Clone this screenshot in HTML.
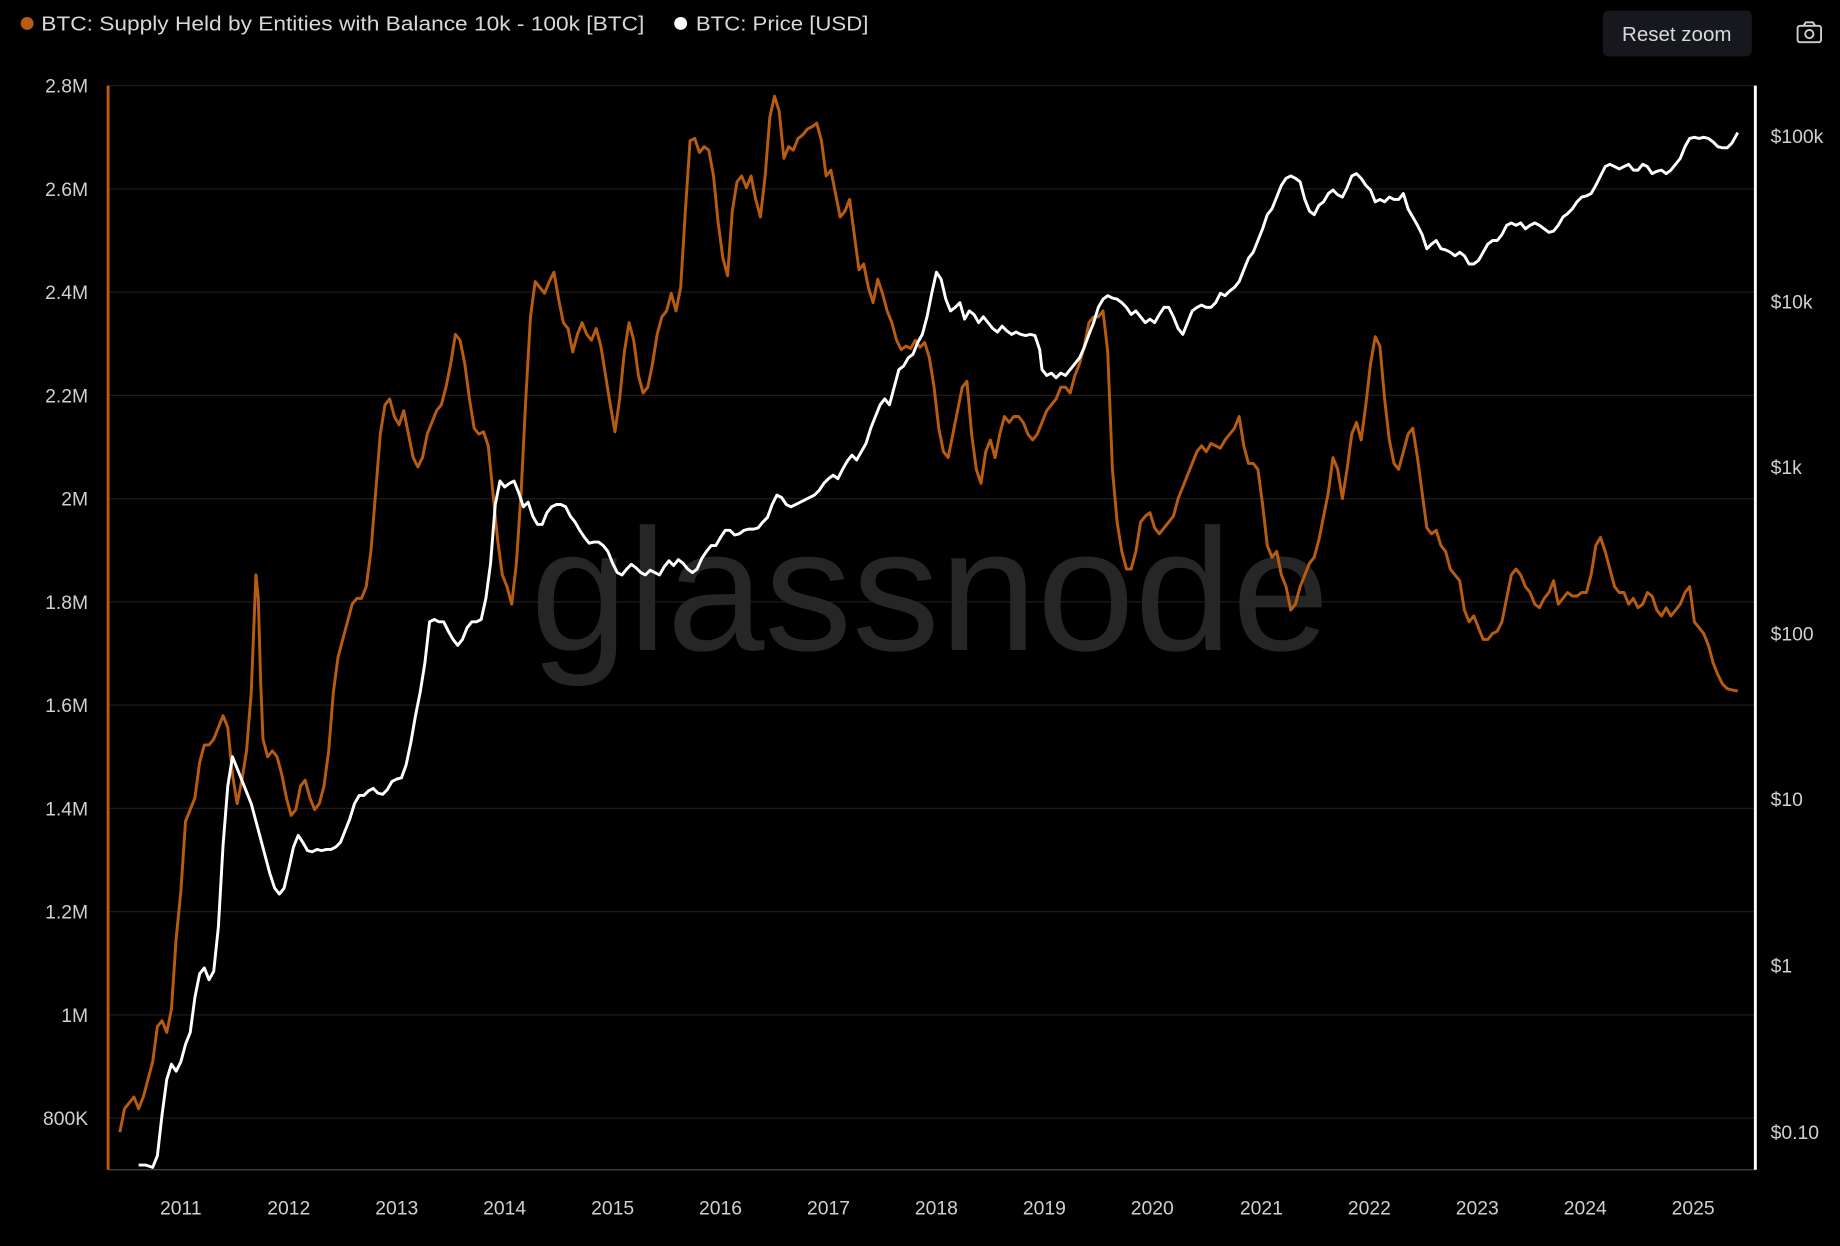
<!DOCTYPE html>
<html><head><meta charset="utf-8"><style>
html,body{margin:0;padding:0;background:#000;}
svg{display:block;}
text{font-family:"Liberation Sans",sans-serif;}
</style></head><body>
<svg width="1840" height="1246" viewBox="0 0 1568 1062" xmlns="http://www.w3.org/2000/svg">
<rect width="1568" height="1062" fill="#000"/>
<g stroke="#1c1c1c" stroke-width="1">
<line x1="92" x2="1496" y1="73" y2="73"/><line x1="92" x2="1496" y1="161" y2="161"/><line x1="92" x2="1496" y1="249" y2="249"/><line x1="92" x2="1496" y1="337" y2="337"/><line x1="92" x2="1496" y1="425" y2="425"/><line x1="92" x2="1496" y1="513" y2="513"/><line x1="92" x2="1496" y1="601" y2="601"/><line x1="92" x2="1496" y1="689" y2="689"/><line x1="92" x2="1496" y1="777" y2="777"/><line x1="92" x2="1496" y1="865" y2="865"/><line x1="92" x2="1496" y1="953" y2="953"/>
</g>
<line x1="92" x2="1496" y1="997" y2="997" stroke="#444" stroke-width="1"/>
<text x="452" y="554" font-size="148" fill="#262626" textLength="681" lengthAdjust="spacingAndGlyphs">glassnode</text>
<line x1="92" x2="92" y1="73" y2="997" stroke="#b85c12" stroke-width="2.5"/>
<line x1="1496" x2="1496" y1="73" y2="997" stroke="#fff" stroke-width="2.5"/>
<g font-size="16.5" fill="#d0d0d0" text-anchor="end">
<text x="75" y="79">2.8M</text><text x="75" y="167">2.6M</text><text x="75" y="255">2.4M</text><text x="75" y="343">2.2M</text><text x="75" y="431">2M</text><text x="75" y="519">1.8M</text><text x="75" y="607">1.6M</text><text x="75" y="695">1.4M</text><text x="75" y="783">1.2M</text><text x="75" y="871">1M</text><text x="75" y="959">800K</text>
</g>
<g font-size="16.5" fill="#d0d0d0">
<text x="1509" y="122">$100k</text><text x="1509" y="263">$10k</text><text x="1509" y="404">$1k</text><text x="1509" y="546">$100</text><text x="1509" y="687">$10</text><text x="1509" y="829">$1</text><text x="1509" y="971">$0.10</text>
</g>
<g font-size="16.5" fill="#d0d0d0" text-anchor="middle">
<text x="154" y="1035">2011</text><text x="246" y="1035">2012</text><text x="338" y="1035">2013</text><text x="430" y="1035">2014</text><text x="522" y="1035">2015</text><text x="614" y="1035">2016</text><text x="706" y="1035">2017</text><text x="798" y="1035">2018</text><text x="890" y="1035">2019</text><text x="982" y="1035">2020</text><text x="1075" y="1035">2021</text><text x="1167" y="1035">2022</text><text x="1259" y="1035">2023</text><text x="1351" y="1035">2024</text><text x="1443" y="1035">2025</text>
</g>
<polyline fill="none" stroke="#b85c12" stroke-width="2.5" stroke-linejoin="round" points="102,965 106,945 110,940 114,935 118,945 122,935 126,920 130,905 134,875 138,870 142,880 146,860 150,800 154,760 158,700 162,690 166,680 170,650 174,635 178,635 182,630 186,620 190,610 194,620 198,660 202,685 206,665 210,640 214,590 216,540 218,490 220,510 222,580 224,630 228,645 232,640 236,645 240,660 244,680 248,695 252,690 256,670 260,665 264,680 268,690 272,685 276,670 280,640 284,590 288,560 292,545 296,530 300,515 304,510 308,510 312,500 316,470 320,420 324,370 328,345 332,340 336,355 340,362 344,350 348,370 352,390 356,398 360,390 364,370 368,360 372,350 376,345 380,330 384,310 388,285 392,290 396,310 400,340 404,365 408,370 412,368 416,380 420,420 424,460 428,490 432,500 436,515 440,480 444,420 448,340 452,270 456,240 460,245 464,250 468,240 472,232 476,255 480,275 484,280 488,300 492,285 496,275 500,285 504,290 508,280 512,295 516,320 520,345 524,368 528,340 532,300 536,275 540,290 544,320 548,335 552,330 556,310 560,285 564,270 568,265 572,250 576,265 580,245 584,180 588,120 592,118 596,130 600,125 604,128 608,150 612,190 616,220 620,235 624,180 628,155 632,150 636,160 640,150 644,170 648,185 652,150 656,100 660,82 664,95 668,135 672,125 676,128 680,118 684,115 688,110 692,108 696,105 700,120 704,150 708,145 712,165 716,185 720,180 724,170 728,200 732,230 736,225 740,245 744,258 748,238 752,250 756,265 760,275 764,290 768,298 772,295 776,297 780,290 784,296 788,292 792,305 796,330 800,365 804,385 808,390 812,370 816,350 820,330 824,325 828,370 832,400 836,412 840,385 844,375 848,390 852,370 856,355 860,360 864,355 868,355 872,360 876,370 880,375 884,370 888,360 892,350 896,345 900,340 904,330 908,330 912,335 916,320 920,310 924,295 928,275 932,270 936,270 940,265 944,300 948,400 952,445 956,470 960,485 964,485 968,470 972,445 976,440 980,437 984,450 988,455 992,450 996,445 1000,440 1004,425 1008,415 1012,405 1016,395 1020,385 1024,380 1028,385 1032,378 1036,380 1040,382 1044,375 1048,370 1052,365 1056,355 1060,380 1064,395 1068,395 1072,400 1076,430 1080,465 1084,475 1088,470 1092,490 1096,500 1100,520 1104,515 1108,500 1112,490 1116,480 1120,475 1124,460 1128,440 1132,420 1136,390 1140,400 1144,425 1148,400 1152,370 1156,360 1160,375 1164,345 1168,310 1172,287 1176,295 1180,340 1184,375 1188,395 1192,400 1196,385 1200,370 1204,365 1208,390 1212,420 1216,450 1220,455 1224,452 1228,465 1232,470 1236,485 1240,490 1244,495 1248,520 1252,530 1256,525 1260,535 1264,545 1268,545 1272,540 1276,538 1280,530 1284,510 1288,490 1292,485 1296,490 1300,500 1304,505 1308,515 1312,518 1316,510 1320,505 1324,495 1328,515 1332,510 1336,505 1340,508 1344,508 1348,505 1352,505 1356,490 1360,465 1364,458 1368,470 1372,485 1376,500 1380,505 1384,505 1388,515 1392,510 1396,518 1400,515 1404,505 1408,508 1412,520 1416,525 1420,518 1424,525 1428,520 1432,515 1436,505 1440,500 1444,530 1448,535 1452,540 1456,550 1460,565 1464,575 1468,583 1472,587 1476,588 1481,589"/>
<polyline fill="none" stroke="#fff" stroke-width="2.5" stroke-linejoin="round" points="118,993 124,993 130,995 134,985 138,950 142,920 146,907 150,913 154,905 158,890 162,880 166,850 170,830 174,825 178,835 182,828 186,790 190,720 194,670 198,645 202,655 206,665 210,675 214,685 218,700 222,715 226,730 230,745 234,757 238,762 242,757 246,740 250,722 254,712 258,718 262,725 266,726 270,724 274,725 278,724 282,724 286,722 290,718 294,708 298,698 302,685 306,678 310,678 314,674 318,672 322,676 326,677 330,673 334,666 338,664 342,663 346,652 350,633 354,610 358,590 362,565 366,530 370,528 374,530 378,530 382,538 386,545 390,550 394,545 398,535 402,530 406,530 410,528 414,510 418,480 422,430 426,410 430,415 434,412 438,410 442,420 446,432 450,428 454,440 458,447 462,447 466,437 470,432 474,430 478,430 482,432 486,440 490,445 494,452 498,458 502,463 506,462 510,462 514,465 518,470 522,480 526,488 530,490 534,485 538,481 542,484 546,488 550,490 554,486 558,488 562,490 566,483 570,478 574,482 578,477 582,480 586,485 590,488 594,485 598,476 602,470 606,465 610,465 614,458 618,452 622,452 626,456 630,455 634,452 638,451 642,451 646,450 650,445 654,441 658,430 662,422 666,424 670,430 674,432 678,430 682,428 686,426 690,424 694,422 698,418 702,412 706,408 710,405 714,408 718,400 722,393 726,388 730,392 734,385 738,378 742,365 746,355 750,345 754,340 758,345 762,330 766,315 770,312 774,305 778,302 782,292 786,285 790,270 794,250 798,232 802,238 806,255 810,265 814,262 818,258 822,272 826,265 830,268 834,275 838,270 842,275 846,280 850,283 854,278 858,282 862,285 866,283 870,285 874,286 878,285 882,286 886,298 888,315 892,320 896,318 900,322 904,318 908,320 912,315 916,310 920,305 924,296 928,285 932,275 936,262 940,255 944,252 948,254 952,255 956,258 960,262 964,268 968,265 972,270 976,275 980,272 984,275 988,268 992,262 996,262 1000,270 1004,280 1008,285 1012,275 1016,265 1020,262 1024,260 1028,262 1032,262 1036,258 1040,250 1044,252 1048,248 1052,245 1056,240 1060,230 1064,220 1068,215 1072,205 1076,195 1080,183 1084,178 1088,168 1092,158 1096,152 1100,150 1104,152 1108,155 1112,170 1116,180 1120,183 1124,175 1128,172 1132,165 1136,162 1140,166 1144,168 1148,160 1152,150 1156,148 1160,152 1164,158 1168,162 1172,172 1176,170 1180,172 1184,168 1188,170 1192,170 1196,165 1200,178 1204,185 1208,192 1212,200 1216,212 1220,208 1224,205 1228,212 1232,213 1236,215 1240,218 1244,215 1248,218 1252,225 1256,225 1260,222 1264,215 1268,208 1272,205 1276,205 1280,200 1284,192 1288,190 1292,192 1296,190 1300,195 1304,192 1308,190 1312,192 1316,195 1320,198 1324,197 1328,192 1332,185 1336,182 1340,178 1344,172 1348,168 1352,167 1356,165 1360,158 1364,150 1368,142 1372,140 1376,142 1380,144 1384,142 1388,140 1392,145 1396,145 1400,140 1404,142 1408,148 1412,146 1416,145 1420,148 1424,145 1428,140 1432,135 1436,125 1440,118 1444,117 1448,118 1452,117 1456,118 1460,121 1464,125 1468,126 1472,126 1476,122 1481,113"/>
<circle cx="23" cy="20" r="5.5" fill="#b85c12"/>
<text x="35" y="26" font-size="17.5" fill="#d8d8d8" textLength="514" lengthAdjust="spacingAndGlyphs">BTC: Supply Held by Entities with Balance 10k - 100k [BTC]</text>
<circle cx="580" cy="20" r="5.5" fill="#fff"/>
<text x="593" y="26" font-size="17.5" fill="#d8d8d8" textLength="147" lengthAdjust="spacingAndGlyphs">BTC: Price [USD]</text>
<rect x="1366" y="9" width="127" height="39" rx="5" fill="#16181d"/>
<text x="1429" y="35" font-size="17.5" fill="#d8d8d8" text-anchor="middle">Reset zoom</text>
<g fill="none" stroke="#cfcfcf" stroke-width="1.6">
<rect x="1532" y="22" width="20" height="14" rx="2"/>
<path d="M1537 22 l2 -3 h6 l2 3"/>
<circle cx="1542" cy="29" r="3.5"/>
</g>
</svg>
</body></html>
